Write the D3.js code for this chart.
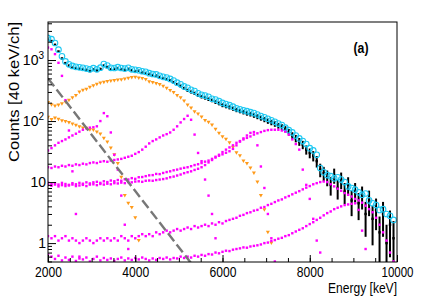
<!DOCTYPE html>
<html>
<head>
<meta charset="utf-8">
<script src="https://cdn.jsdelivr.net/npm/d3@7"></script>
<style>
body { margin: 0; background: #fff; }
text { font-family: "Liberation Sans", Arial, sans-serif; fill: #000; }
</style>
</head>
<body>
<svg id="spectrum" width="436" height="300"></svg>
<script>

// all series start at 2000 keV, one value every 80 keV
var eStart = 2000, eStep = 80;

var xTicks = [2000, 4000, 6000, 8000, 10000];
var yTicks = [1, 10, 100, 1000];

// measured spectrum (black)
var dataCounts = [
  2150, 2050, 1780, 1380, 1060, 890, 810, 750, 735, 720,
  705, 690, 660, 705, 675, 715, 810, 770, 700, 715,
  735, 705, 690, 715, 680, 655, 665, 625, 600, 590,
  560, 555, 525, 500, 485, 465, 430, 400, 375, 345,
  320, 300, 285, 265, 250, 240, 228, 218, 205, 195,
  182, 175, 168, 160, 152, 146, 140, 134, 130, 124,
  118, 112, 106, 100, 95, 90, 84, 80, 74, 66,
  58, 52, 46, 41, 34, 30, 27, 22, 16, 14,
  12, 9, 13, 8, 11, 7, 9, 5, 7, 4.5,
  6, 3, 5, 2.5, 3.5, 1.5, 3, 1, 2, 1.2
];

// sum of the components (cyan circles)
var totalFit = [
  2300, 2200, 1900, 1480, 1150, 950, 850, 800, 775, 760,
  745, 725, 705, 735, 705, 750, 860, 810, 745, 740,
  765, 740, 725, 745, 705, 690, 680, 655, 640, 610,
  590, 580, 550, 530, 515, 490, 460, 425, 400, 370,
  350, 325, 310, 285, 270, 262, 250, 232, 225, 212,
  198, 190, 182, 172, 162, 156, 150, 145, 140, 135,
  128, 121, 115, 109, 103, 97, 91, 86, 78, 71,
  65, 58, 52, 47, 42, 36, 33, 28, 17, 14.5,
  13, 12.5, 11.5, 12, 11, 10, 8.5, 8, 7.5, 6.8,
  6.2, 6.5, 5, 4.5, 4.2, 3.5, 3.6, 3, 2.8, 2.4
];

// orange components
var orangeA = [
  200, 185, 175, 182, 192, 205, 218, 240, 262, 298,
  318, 332, 358, 378, 400, 418, 430, 442, 450, 462,
  470, 472, 488, 500, 515, 522, 508, 498, 478, 440,
  428, 410, 395, 370, 342, 315, 292, 262, 240, 212,
  182, 163, 142, 130, 116, 102, 95, 86, 73, 63,
  55, 50, 44, 37, 30, 27, 22, 20, 17, 14,
  10, 6, 3.5, 1.5, 1.0
];
var orangeB = [
  115, 106, 112, 107, 101, 98, 94, 89, 85, 80,
  77, 76, 72, 71, 66, 61, 52, 45, 36, 28,
  20, 12, 6, 4.5, 3.8, 2.6, 1.1
];

// magenta components
var mag1 = [1600, 1500, 1250, 900, 550, 220, 70, 15, 3, 0.6];
var mag2 = [
  33, 36, 40, 44, 47, 50, 54, 58, 62, 67,
  72, 76, 78, 79, 82, 100, 135, 120, 65, 28,
  16, 6, 2, 0.8
];
var mag3 = [
  17.5, 17, 18, 17.5, 18.5, 18, 19, 18.5, 19.5, 19,
  20, 19.5, 20.5, 21, 20.5, 21.5, 22, 21.5, 22.5, 23,
  23.5, 24, 25, 26, 27, 29, 31, 34, 38, 43,
  47, 50, 54, 58, 61, 65, 72, 82, 95, 108,
  122, 105, 60, 30, 22, 11, 6, 3, 1.2
];
var mag4 = [
  9.8, 9.2, 9.6, 9.1, 9.7, 9.3, 9.0, 9.6, 9.2, 9.7,
  9.4, 9.9, 9.5, 9.9, 10.1, 9.7, 10.3, 10.0, 10.6, 10.3,
  10.8, 10.5, 11.1, 11.0, 11.6, 11.3, 12.0, 12.1, 12.5, 12.9,
  13.0, 13.6, 13.5, 14.1, 14.6, 15.0, 15.6, 16.0, 16.6, 17.1,
  17.5, 18.2, 19.0, 19.6, 20.5, 21.6, 22.5, 24.0, 25.2, 27.0,
  28.5, 30.2, 32.0, 35.0, 40.0, 46.0, 52.0, 58.0, 64.0, 66.0,
  40, 18, 8, 3, 1.2, 0.5
];
var mag5 = [
  9.0, 8.7, 9.1, 8.5, 8.9, 8.6, 8.8, 9.1, 8.6, 8.8,
  9.0, 8.6, 9.1, 9.2, 8.9, 9.3, 9.1, 9.4, 9.2, 9.6,
  9.5, 9.8, 9.6, 10.0, 9.9, 10.2, 10.3, 10.1, 10.5, 10.6,
  10.5, 10.8, 11.0, 11.2, 11.5, 12.0, 12.3, 12.8, 13.3, 14.0,
  14.5, 15.0, 15.8, 16.5, 17.5, 19.0, 21.0, 23.0, 26.0, 28.0,
  31, 34, 37, 40, 44, 47, 50, 53, 56, 60,
  63, 66, 69, 71, 72, 72, 72, 70, 67, 60,
  50, 42, 34, 16, 9, 5.3, 2.5, 1.1, 0.7
];
var mag6 = [
  1.3, 1.2, 1.3, 1.1, 1.2, 1.3, 1.1, 1.2, 1.1, 1.0,
  1.1, 1.2, 1.1, 1.0, 1.1, 1.2, 1.1, 1.2, 1.1, 1.2,
  1.1, 1.3, 1.2, 1.1, 1.3, 1.2, 1.3, 1.4, 1.3, 1.4,
  1.3, 1.5, 1.4, 1.5, 1.6, 1.5, 1.6, 1.7, 1.6, 1.7,
  1.8, 1.7, 1.9, 1.8, 1.9, 2.0, 1.9, 2.1, 2.0, 2.2,
  2.1, 2.3, 2.4, 2.5, 2.6, 2.8, 2.9, 3.1, 3.2, 3.4,
  3.5, 3.8, 3.9, 4.2, 4.4, 4.7, 5.0, 5.2, 5.6, 5.9,
  6.3, 6.7, 7.1, 7.6, 8.1, 8.6, 9.2, 9.6, 10.0, 10.2,
  10.0, 9.2, 8.5, 7.8, 7.2, 6.6, 6.2, 5.8, 5.3, 5.0,
  4.6, 4.1, 3.6, 3.2, 2.6, 2.0, 1.5, 1.1, 0.7, 0.5
];
var mag7 = [
  0.65, 0.6, 0.55, 0.62, 0.52, 0.58, 0.53, 0.6, 0.51, 0.56,
  0.54, 0.58, 0.5, 0.55, 0.6, 0.52, 0.57, 0.53, 0.56, 0.51,
  0.55, 0.58, 0.52, 0.56, 0.53, 0.57, 0.54, 0.58, 0.55, 0.52,
  0.56, 0.53, 0.57, 0.55, 0.58, 0.54, 0.57, 0.56, 0.6, 0.57,
  0.6, 0.58, 0.62, 0.6, 0.64, 0.62, 0.66, 0.65, 0.7, 0.68,
  0.72, 0.75, 0.74, 0.78, 0.8, 0.82, 0.85, 0.84, 0.88, 0.9,
  0.92, 0.95, 1.0, 1.02, 1.08, 1.12, 1.18, 1.22, 1.3, 1.35,
  1.45, 1.55, 1.65, 1.75, 1.9, 2.05, 2.2, 2.4, 2.6, 2.85,
  3.1, 3.3, 3.6, 3.8, 4.0, 4.2, 4.3, 4.4, 4.5, 3.5,
  1.6, 0.8, 0.45
];

// grey dashed background line (end points)
var bgEnergy = [2000, 5300];
var bgCounts = [500, 0.45];

function toPoints(vals) {
  return vals.map(function(v, i) { return {e: eStart + i * eStep, v: v}; });
}

function drawSpectrum(svgEl) {
  var margin = {top: 22, right: 39, bottom: 38, left: 48},
      width = 436 - margin.left - margin.right,
      height = 300 - margin.top - margin.bottom;

  var x = d3.scaleLinear().domain([2000, 10000]).range([0, width]);
  var y = d3.scaleLog().domain([0.49, 4200]).range([height, 0]);
  var yMin = y.domain()[0];

  var svg = d3.select(svgEl).append("g")
      .attr("transform", "translate(" + margin.left + "," + margin.top + ")");

  svg.append("clipPath").attr("id", "plotclip")
    .append("rect").attr("width", width).attr("height", height);

  var plot = svg.append("g").attr("clip-path", "url(#plotclip)");

  // data with poisson error bars
  var dPts = toPoints(dataCounts);
  plot.append("g").selectAll("line")
      .data(dPts).enter().append("line")
      .attr("x1", function(d) { return x(d.e); })
      .attr("x2", function(d) { return x(d.e); })
      .attr("y1", function(d) { return y(Math.max(d.v - Math.sqrt(d.v), yMin * 0.5)); })
      .attr("y2", function(d) { return y(d.v + Math.sqrt(d.v)); })
      .attr("stroke", "#000")
      .attr("stroke-width", 2);
  plot.append("g").selectAll("rect")
      .data(dPts).enter().append("rect")
      .attr("x", function(d) { return x(d.e) - 1.2; })
      .attr("y", function(d) { return y(d.v) - 1.2; })
      .attr("width", 2.4).attr("height", 2.4)
      .attr("fill", "#000");

  // total (cyan open circles)
  plot.append("g").selectAll("circle")
      .data(toPoints(totalFit)).enter().append("circle")
      .attr("cx", function(d) { return x(d.e); })
      .attr("cy", function(d) { return y(d.v); })
      .attr("r", 2.8)
      .attr("fill", "none")
      .attr("stroke", "#1ec8f2")
      .attr("stroke-width", 1.1);

  // orange triangles
  [orangeA, orangeB].forEach(function(s) {
    plot.append("g").selectAll("path")
        .data(toPoints(s).filter(function(d) { return d.v >= yMin; })).enter().append("path")
        .attr("d", "M-2,-1.6L2,-1.6L0,1.9Z")
        .attr("transform", function(d) { return "translate(" + x(d.e) + "," + y(d.v) + ")"; })
        .attr("fill", "#ff9a1a");
  });

  // magenta squares
  [mag1, mag2, mag3, mag4, mag5, mag6, mag7].forEach(function(s) {
    plot.append("g").selectAll("rect")
        .data(toPoints(s).filter(function(d) { return d.v >= yMin; })).enter().append("rect")
        .attr("x", function(d) { return x(d.e) - 1.2; })
        .attr("y", function(d) { return y(d.v) - 1.2; })
        .attr("width", 2.4).attr("height", 2.4)
        .attr("fill", "#ff00ff");
  });

  // grey dashed line
  var bgLine = d3.line()
      .x(function(d) { return x(d[0]); })
      .y(function(d) { return y(d[1]); });
  plot.append("path")
      .datum(d3.zip(bgEnergy, bgCounts))
      .attr("d", bgLine)
      .attr("fill", "none")
      .attr("stroke", "#777")
      .attr("stroke-width", 2.4)
      .attr("stroke-dasharray", "10,4");

  // frame
  svg.append("rect")
      .attr("width", width).attr("height", height)
      .attr("fill", "none").attr("stroke", "#000").attr("stroke-width", 1);

  // x axis, ticks pointing inward
  var xAxis = svg.append("g").attr("transform", "translate(0," + height + ")")
      .call(d3.axisBottom(x).tickValues(xTicks).tickSize(-7).tickPadding(5).tickFormat(d3.format("d")));
  xAxis.select(".domain").remove();
  xAxis.selectAll("text")
      .style("font-size", "14px")
      .attr("textLength", function(d) { return d >= 10000 ? 32 : 27; })
      .attr("lengthAdjust", "spacingAndGlyphs");
  svg.append("g").attr("transform", "translate(0," + height + ")")
      .call(d3.axisBottom(x).tickValues(d3.range(2500, 10000, 500)).tickSize(-4).tickFormat(""))
      .select(".domain").remove();

  // y axis
  var yAxis = svg.append("g")
      .call(d3.axisLeft(y).tickValues(yTicks).tickSize(-8).tickFormat(""));
  yAxis.select(".domain").remove();
  svg.append("g")
      .call(d3.axisLeft(y).tickValues(y.ticks().filter(function(t) {
        return yTicks.indexOf(t) < 0; })).tickSize(-4).tickFormat(""))
      .select(".domain").remove();
  svg.selectAll(".tick line").attr("stroke", "#000");

  // y tick labels, 10^n with superscript
  yTicks.forEach(function(t) {
    var exp = Math.round(Math.log10(t));
    var lbl = svg.append("text")
        .attr("x", exp >= 2 ? -4 : -2)
        .attr("y", y(t) + 5)
        .attr("text-anchor", "end")
        .style("font-size", "14px");
    if (exp >= 2) {
      lbl.append("tspan").text("10");
      lbl.append("tspan").attr("dy", -6).style("font-size", "10px").text(exp);
    } else {
      lbl.text(exp === 1 ? "10" : "1");
    }
  });

  // axis titles
  svg.append("text")
      .attr("x", width).attr("y", height + 31)
      .attr("text-anchor", "end")
      .attr("textLength", 69).attr("lengthAdjust", "spacingAndGlyphs")
      .style("font-size", "14px")
      .text("Energy [keV]");

  svg.append("text")
      .attr("transform", "rotate(-90)")
      .attr("x", 0).attr("y", 19 - margin.left)
      .attr("text-anchor", "end")
      .attr("textLength", 140).attr("lengthAdjust", "spacingAndGlyphs")
      .style("font-size", "14px")
      .text("Counts [40 keV/ch]");

  svg.append("text")
      .attr("x", 361 - margin.left).attr("y", 53 - margin.top)
      .attr("text-anchor", "middle")
      .attr("textLength", 15).attr("lengthAdjust", "spacingAndGlyphs")
      .style("font-size", "15px").style("font-weight", "bold")
      .text("(a)");
}

drawSpectrum(document.querySelector("#spectrum"));
</script>
</body>
</html>
